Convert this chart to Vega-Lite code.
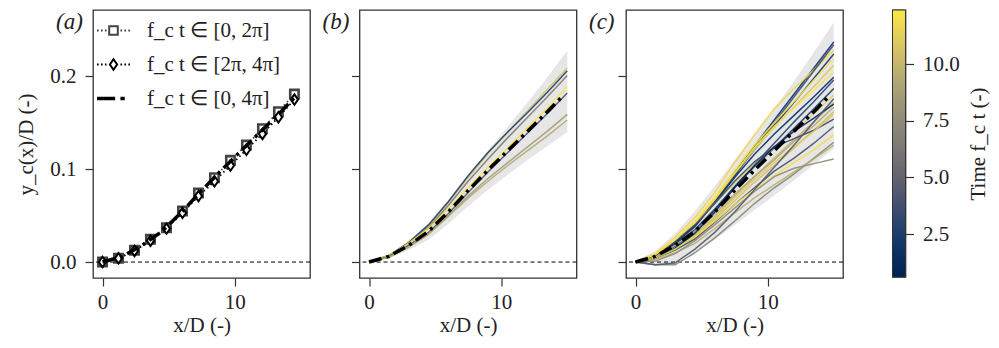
{
"$schema": "https://vega.github.io/schema/vega-lite/v6.json",
"background": "white",
"padding": {"left": 15, "top": 8, "right": 2, "bottom": 4},
"config": {
  "font": "Liberation Serif",
  "view": {"stroke": "#333", "strokeWidth": 1.3},
  "axis": {"domain": false, "grid": false, "tickColor": "#333", "tickSize": 8, "tickWidth": 1.2, "labelFontSize": 21, "labelColor": "#222", "titleFontSize": 21, "titleFontWeight": "normal", "titleColor": "#222", "labelFont": "Liberation Serif", "titleFont": "Liberation Serif"},
  "title": {"anchor": "start", "frame": "group", "baseline": "top", "dx": -37, "offset": -24, "fontSize": 23, "fontStyle": "italic", "fontWeight": "normal", "color": "#222", "font": "Liberation Serif"}
},
"datasets": {
  "a": [
    {"k":"sq","x":0,"y":0},{"k":"sq","x":1.21,"y":0.004},{"k":"sq","x":2.42,"y":0.0126},{"k":"sq","x":3.63,"y":0.0245},{"k":"sq","x":4.84,"y":0.037},{"k":"sq","x":6.05,"y":0.055},{"k":"sq","x":7.26,"y":0.0743},{"k":"sq","x":8.47,"y":0.0908},{"k":"sq","x":9.68,"y":0.1096},{"k":"sq","x":10.89,"y":0.126},{"k":"sq","x":12.1,"y":0.1436},{"k":"sq","x":13.31,"y":0.162},{"k":"sq","x":14.52,"y":0.181},
    {"k":"dm","x":0,"y":0},{"k":"dm","x":1.21,"y":0.004},{"k":"dm","x":2.42,"y":0.012},{"k":"dm","x":3.63,"y":0.023},{"k":"dm","x":4.84,"y":0.036},{"k":"dm","x":6.05,"y":0.053},{"k":"dm","x":7.26,"y":0.071},{"k":"dm","x":8.47,"y":0.087},{"k":"dm","x":9.68,"y":0.104},{"k":"dm","x":10.89,"y":0.121},{"k":"dm","x":12.1,"y":0.138},{"k":"dm","x":13.31,"y":0.156},{"k":"dm","x":14.52,"y":0.175},
    {"k":"mean","x":0,"y":0},{"k":"mean","x":1.5,"y":0.006},{"k":"mean","x":3,"y":0.018},{"k":"mean","x":4.5,"y":0.033},{"k":"mean","x":6,"y":0.054},{"k":"mean","x":7.5,"y":0.077},{"k":"mean","x":9,"y":0.099},{"k":"mean","x":10.5,"y":0.12},{"k":"mean","x":12,"y":0.141},{"k":"mean","x":13.5,"y":0.162},{"k":"mean","x":14.6,"y":0.178}
  ],
  "mean": [
    {"x":0,"y":0},{"x":1.5,"y":0.006},{"x":3,"y":0.018},{"x":4.5,"y":0.033},{"x":6,"y":0.054},{"x":7.5,"y":0.077},{"x":9,"y":0.099},{"x":10.5,"y":0.12},{"x":12,"y":0.141},{"x":13.5,"y":0.162},{"x":14.6,"y":0.178}
  ],
  "bandb": [
    {"x":0,"lo":0,"hi":0},{"x":1.5,"lo":0.004,"hi":0.008},{"x":3,"lo":0.013,"hi":0.023},{"x":4.5,"lo":0.024,"hi":0.042},{"x":6,"lo":0.041,"hi":0.067},{"x":7.5,"lo":0.06,"hi":0.094},{"x":9,"lo":0.078,"hi":0.12},{"x":10.5,"lo":0.094,"hi":0.146},{"x":12,"lo":0.11,"hi":0.172},{"x":13.5,"lo":0.125,"hi":0.199},{"x":15,"lo":0.14,"hi":0.228}
  ],
  "bandc": [
    {"x":0,"lo":-0.001,"hi":0.001},{"x":1.5,"lo":-0.004,"hi":0.012},{"x":3,"lo":0,"hi":0.031},{"x":4.5,"lo":0.01,"hi":0.055},{"x":6,"lo":0.024,"hi":0.082},{"x":7.5,"lo":0.04,"hi":0.11},{"x":9,"lo":0.056,"hi":0.138},{"x":10.5,"lo":0.072,"hi":0.166},{"x":12,"lo":0.088,"hi":0.195},{"x":13.5,"lo":0.105,"hi":0.226},{"x":15,"lo":0.122,"hi":0.258}
  ],
  "b": [
    {"id":"b1","t":10.6,"x":0,"y":0},{"id":"b1","t":10.6,"x":1.5,"y":0.007},{"id":"b1","t":10.6,"x":3,"y":0.021},{"id":"b1","t":10.6,"x":4.5,"y":0.039},{"id":"b1","t":10.6,"x":6,"y":0.064},{"id":"b1","t":10.6,"x":7.5,"y":0.091},{"id":"b1","t":10.6,"x":9,"y":0.117},{"id":"b1","t":10.6,"x":10.5,"y":0.14},{"id":"b1","t":10.6,"x":12,"y":0.163},{"id":"b1","t":10.6,"x":13.5,"y":0.186},{"id":"b1","t":10.6,"x":15,"y":0.209},
    {"id":"b2","t":2.6,"x":0,"y":0},{"id":"b2","t":2.6,"x":1.5,"y":0.007},{"id":"b2","t":2.6,"x":3,"y":0.021},{"id":"b2","t":2.6,"x":4.5,"y":0.04},{"id":"b2","t":2.6,"x":6,"y":0.065},{"id":"b2","t":2.6,"x":7.5,"y":0.093},{"id":"b2","t":2.6,"x":9,"y":0.118},{"id":"b2","t":2.6,"x":10.5,"y":0.14},{"id":"b2","t":2.6,"x":12,"y":0.161},{"id":"b2","t":2.6,"x":13.5,"y":0.183},{"id":"b2","t":2.6,"x":15,"y":0.206},
    {"id":"b3","t":6.5,"x":0,"y":0},{"id":"b3","t":6.5,"x":1.5,"y":0.006},{"id":"b3","t":6.5,"x":3,"y":0.02},{"id":"b3","t":6.5,"x":4.5,"y":0.037},{"id":"b3","t":6.5,"x":6,"y":0.061},{"id":"b3","t":6.5,"x":7.5,"y":0.087},{"id":"b3","t":6.5,"x":9,"y":0.111},{"id":"b3","t":6.5,"x":10.5,"y":0.134},{"id":"b3","t":6.5,"x":12,"y":0.156},{"id":"b3","t":6.5,"x":13.5,"y":0.178},{"id":"b3","t":6.5,"x":15,"y":0.201},
    {"id":"b4","t":12.2,"x":0,"y":0},{"id":"b4","t":12.2,"x":1.5,"y":0.007},{"id":"b4","t":12.2,"x":3,"y":0.02},{"id":"b4","t":12.2,"x":4.5,"y":0.036},{"id":"b4","t":12.2,"x":6,"y":0.057},{"id":"b4","t":12.2,"x":7.5,"y":0.08},{"id":"b4","t":12.2,"x":9,"y":0.102},{"id":"b4","t":12.2,"x":10.5,"y":0.123},{"id":"b4","t":12.2,"x":12,"y":0.145},{"id":"b4","t":12.2,"x":13.5,"y":0.166},{"id":"b4","t":12.2,"x":15,"y":0.189},
    {"id":"b5","t":4.2,"x":0,"y":0},{"id":"b5","t":4.2,"x":1.5,"y":0.006},{"id":"b5","t":4.2,"x":3,"y":0.018},{"id":"b5","t":4.2,"x":4.5,"y":0.032},{"id":"b5","t":4.2,"x":6,"y":0.052},{"id":"b5","t":4.2,"x":7.5,"y":0.075},{"id":"b5","t":4.2,"x":9,"y":0.097},{"id":"b5","t":4.2,"x":10.5,"y":0.118},{"id":"b5","t":4.2,"x":12,"y":0.139},{"id":"b5","t":4.2,"x":13.5,"y":0.16},{"id":"b5","t":4.2,"x":15,"y":0.182},
    {"id":"b6","t":8.6,"x":0,"y":0},{"id":"b6","t":8.6,"x":1.5,"y":0.005},{"id":"b6","t":8.6,"x":3,"y":0.016},{"id":"b6","t":8.6,"x":4.5,"y":0.03},{"id":"b6","t":8.6,"x":6,"y":0.05},{"id":"b6","t":8.6,"x":7.5,"y":0.071},{"id":"b6","t":8.6,"x":9,"y":0.09},{"id":"b6","t":8.6,"x":10.5,"y":0.107},{"id":"b6","t":8.6,"x":12,"y":0.124},{"id":"b6","t":8.6,"x":13.5,"y":0.141},{"id":"b6","t":8.6,"x":15,"y":0.159},
    {"id":"b7","t":9.2,"x":0,"y":0},{"id":"b7","t":9.2,"x":1.5,"y":0.005},{"id":"b7","t":9.2,"x":3,"y":0.016},{"id":"b7","t":9.2,"x":4.5,"y":0.03},{"id":"b7","t":9.2,"x":6,"y":0.049},{"id":"b7","t":9.2,"x":7.5,"y":0.069},{"id":"b7","t":9.2,"x":9,"y":0.087},{"id":"b7","t":9.2,"x":10.5,"y":0.104},{"id":"b7","t":9.2,"x":12,"y":0.12},{"id":"b7","t":9.2,"x":13.5,"y":0.136},{"id":"b7","t":9.2,"x":15,"y":0.153}
  ],
  "c": [
    {"id":"c1","t":2.0,"x":0,"y":0},{"id":"c1","t":2.0,"x":1.5,"y":0.007},{"id":"c1","t":2.0,"x":3,"y":0.022},{"id":"c1","t":2.0,"x":4.5,"y":0.041},{"id":"c1","t":2.0,"x":6,"y":0.067},{"id":"c1","t":2.0,"x":7.5,"y":0.096},{"id":"c1","t":2.0,"x":9,"y":0.125},{"id":"c1","t":2.0,"x":10.5,"y":0.153},{"id":"c1","t":2.0,"x":12,"y":0.181},{"id":"c1","t":2.0,"x":13.5,"y":0.209},{"id":"c1","t":2.0,"x":15,"y":0.237},
    {"id":"c2","t":11.6,"x":0,"y":0},{"id":"c2","t":11.6,"x":1.5,"y":0.009},{"id":"c2","t":11.6,"x":3,"y":0.027},{"id":"c2","t":11.6,"x":4.5,"y":0.048},{"id":"c2","t":11.6,"x":6,"y":0.075},{"id":"c2","t":11.6,"x":7.5,"y":0.107},{"id":"c2","t":11.6,"x":9,"y":0.137},{"id":"c2","t":11.6,"x":10.5,"y":0.165},{"id":"c2","t":11.6,"x":12,"y":0.187},{"id":"c2","t":11.6,"x":13.5,"y":0.207},{"id":"c2","t":11.6,"x":15,"y":0.228},
    {"id":"c3","t":3.6,"x":0,"y":0},{"id":"c3","t":3.6,"x":1.5,"y":0.006},{"id":"c3","t":3.6,"x":3,"y":0.02},{"id":"c3","t":3.6,"x":4.5,"y":0.038},{"id":"c3","t":3.6,"x":6,"y":0.064},{"id":"c3","t":3.6,"x":7.5,"y":0.093},{"id":"c3","t":3.6,"x":9,"y":0.122},{"id":"c3","t":3.6,"x":10.5,"y":0.15},{"id":"c3","t":3.6,"x":12,"y":0.178},{"id":"c3","t":3.6,"x":13.5,"y":0.206},{"id":"c3","t":3.6,"x":15,"y":0.234},
    {"id":"c4","t":2.3,"x":0,"y":0},{"id":"c4","t":2.3,"x":1.5,"y":0.007},{"id":"c4","t":2.3,"x":3,"y":0.021},{"id":"c4","t":2.3,"x":4.5,"y":0.04},{"id":"c4","t":2.3,"x":6,"y":0.066},{"id":"c4","t":2.3,"x":7.5,"y":0.094},{"id":"c4","t":2.3,"x":9,"y":0.121},{"id":"c4","t":2.3,"x":10.5,"y":0.147},{"id":"c4","t":2.3,"x":12,"y":0.172},{"id":"c4","t":2.3,"x":13.5,"y":0.198},{"id":"c4","t":2.3,"x":15,"y":0.224},
    {"id":"c5","t":12.1,"x":0,"y":0},{"id":"c5","t":12.1,"x":1.5,"y":0.008},{"id":"c5","t":12.1,"x":3,"y":0.024},{"id":"c5","t":12.1,"x":4.5,"y":0.044},{"id":"c5","t":12.1,"x":6,"y":0.07},{"id":"c5","t":12.1,"x":7.5,"y":0.099},{"id":"c5","t":12.1,"x":9,"y":0.126},{"id":"c5","t":12.1,"x":10.5,"y":0.15},{"id":"c5","t":12.1,"x":12,"y":0.173},{"id":"c5","t":12.1,"x":13.5,"y":0.196},{"id":"c5","t":12.1,"x":15,"y":0.219},
    {"id":"c6","t":10.8,"x":0,"y":0},{"id":"c6","t":10.8,"x":1.5,"y":0.008},{"id":"c6","t":10.8,"x":3,"y":0.023},{"id":"c6","t":10.8,"x":4.5,"y":0.042},{"id":"c6","t":10.8,"x":6,"y":0.067},{"id":"c6","t":10.8,"x":7.5,"y":0.095},{"id":"c6","t":10.8,"x":9,"y":0.121},{"id":"c6","t":10.8,"x":10.5,"y":0.145},{"id":"c6","t":10.8,"x":12,"y":0.167},{"id":"c6","t":10.8,"x":13.5,"y":0.189},{"id":"c6","t":10.8,"x":15,"y":0.212},
    {"id":"c7","t":1.4,"x":0,"y":0},{"id":"c7","t":1.4,"x":1.5,"y":0.007},{"id":"c7","t":1.4,"x":3,"y":0.021},{"id":"c7","t":1.4,"x":4.5,"y":0.039},{"id":"c7","t":1.4,"x":6,"y":0.064},{"id":"c7","t":1.4,"x":7.5,"y":0.091},{"id":"c7","t":1.4,"x":9,"y":0.116},{"id":"c7","t":1.4,"x":10.5,"y":0.138},{"id":"c7","t":1.4,"x":12,"y":0.158},{"id":"c7","t":1.4,"x":13.5,"y":0.178},{"id":"c7","t":1.4,"x":15,"y":0.199},
    {"id":"c8","t":3.0,"x":0,"y":0},{"id":"c8","t":3.0,"x":1.5,"y":0.005},{"id":"c8","t":3.0,"x":3,"y":0.017},{"id":"c8","t":3.0,"x":4.5,"y":0.033},{"id":"c8","t":3.0,"x":6,"y":0.056},{"id":"c8","t":3.0,"x":7.5,"y":0.081},{"id":"c8","t":3.0,"x":9,"y":0.105},{"id":"c8","t":3.0,"x":10.5,"y":0.128},{"id":"c8","t":3.0,"x":12,"y":0.151},{"id":"c8","t":3.0,"x":13.5,"y":0.173},{"id":"c8","t":3.0,"x":15,"y":0.196},
    {"id":"c9","t":2.6,"x":0,"y":0},{"id":"c9","t":2.6,"x":1.5,"y":0.006},{"id":"c9","t":2.6,"x":3,"y":0.019},{"id":"c9","t":2.6,"x":4.5,"y":0.035},{"id":"c9","t":2.6,"x":6,"y":0.057},{"id":"c9","t":2.6,"x":7.5,"y":0.081},{"id":"c9","t":2.6,"x":9,"y":0.103},{"id":"c9","t":2.6,"x":10.5,"y":0.123},{"id":"c9","t":2.6,"x":12,"y":0.144},{"id":"c9","t":2.6,"x":13.5,"y":0.165},{"id":"c9","t":2.6,"x":15,"y":0.187},
    {"id":"c10","t":11.3,"x":0,"y":0},{"id":"c10","t":11.3,"x":1.5,"y":0.008},{"id":"c10","t":11.3,"x":3,"y":0.023},{"id":"c10","t":11.3,"x":4.5,"y":0.041},{"id":"c10","t":11.3,"x":6,"y":0.063},{"id":"c10","t":11.3,"x":7.5,"y":0.085},{"id":"c10","t":11.3,"x":9,"y":0.105},{"id":"c10","t":11.3,"x":10.5,"y":0.123},{"id":"c10","t":11.3,"x":12,"y":0.141},{"id":"c10","t":11.3,"x":13.5,"y":0.16},{"id":"c10","t":11.3,"x":15,"y":0.18},
    {"id":"c11","t":9.9,"x":0,"y":0},{"id":"c11","t":9.9,"x":1.5,"y":0.005},{"id":"c11","t":9.9,"x":3,"y":0.015},{"id":"c11","t":9.9,"x":4.5,"y":0.029},{"id":"c11","t":9.9,"x":6,"y":0.049},{"id":"c11","t":9.9,"x":7.5,"y":0.071},{"id":"c11","t":9.9,"x":9,"y":0.092},{"id":"c11","t":9.9,"x":10.5,"y":0.112},{"id":"c11","t":9.9,"x":12,"y":0.132},{"id":"c11","t":9.9,"x":13.5,"y":0.151},{"id":"c11","t":9.9,"x":15,"y":0.172},
    {"id":"c12","t":9.2,"x":0,"y":0},{"id":"c12","t":9.2,"x":1.5,"y":0.006},{"id":"c12","t":9.2,"x":3,"y":0.018},{"id":"c12","t":9.2,"x":4.5,"y":0.033},{"id":"c12","t":9.2,"x":6,"y":0.052},{"id":"c12","t":9.2,"x":7.5,"y":0.073},{"id":"c12","t":9.2,"x":9,"y":0.092},{"id":"c12","t":9.2,"x":10.5,"y":0.11},{"id":"c12","t":9.2,"x":12,"y":0.13},{"id":"c12","t":9.2,"x":13.5,"y":0.147},{"id":"c12","t":9.2,"x":15,"y":0.167},
    {"id":"c13","t":10.4,"x":0,"y":0},{"id":"c13","t":10.4,"x":1.5,"y":0.004},{"id":"c13","t":10.4,"x":3,"y":0.014},{"id":"c13","t":10.4,"x":4.5,"y":0.027},{"id":"c13","t":10.4,"x":6,"y":0.046},{"id":"c13","t":10.4,"x":7.5,"y":0.066},{"id":"c13","t":10.4,"x":9,"y":0.086},{"id":"c13","t":10.4,"x":10.5,"y":0.104},{"id":"c13","t":10.4,"x":12,"y":0.123},{"id":"c13","t":10.4,"x":13.5,"y":0.142},{"id":"c13","t":10.4,"x":15,"y":0.162},
    {"id":"c14","t":3.4,"x":0,"y":0},{"id":"c14","t":3.4,"x":1.5,"y":0.007},{"id":"c14","t":3.4,"x":3,"y":0.022},{"id":"c14","t":3.4,"x":4.5,"y":0.04},{"id":"c14","t":3.4,"x":6,"y":0.063},{"id":"c14","t":3.4,"x":7.5,"y":0.087},{"id":"c14","t":3.4,"x":9,"y":0.108},{"id":"c14","t":3.4,"x":10.5,"y":0.124},{"id":"c14","t":3.4,"x":12,"y":0.133},{"id":"c14","t":3.4,"x":13.5,"y":0.142},{"id":"c14","t":3.4,"x":15,"y":0.154},
    {"id":"c15","t":3.9,"x":0,"y":0},{"id":"c15","t":3.9,"x":1.5,"y":0.004},{"id":"c15","t":3.9,"x":3,"y":0.013},{"id":"c15","t":3.9,"x":4.5,"y":0.025},{"id":"c15","t":3.9,"x":6,"y":0.043},{"id":"c15","t":3.9,"x":7.5,"y":0.062},{"id":"c15","t":3.9,"x":9,"y":0.08},{"id":"c15","t":3.9,"x":10.5,"y":0.098},{"id":"c15","t":3.9,"x":12,"y":0.112},{"id":"c15","t":3.9,"x":13.5,"y":0.128},{"id":"c15","t":3.9,"x":15,"y":0.146},
    {"id":"c16","t":11.9,"x":0,"y":0},{"id":"c16","t":11.9,"x":1.5,"y":0.005},{"id":"c16","t":11.9,"x":3,"y":0.015},{"id":"c16","t":11.9,"x":4.5,"y":0.027},{"id":"c16","t":11.9,"x":6,"y":0.044},{"id":"c16","t":11.9,"x":7.5,"y":0.062},{"id":"c16","t":11.9,"x":9,"y":0.078},{"id":"c16","t":11.9,"x":10.5,"y":0.093},{"id":"c16","t":11.9,"x":12,"y":0.107},{"id":"c16","t":11.9,"x":13.5,"y":0.121},{"id":"c16","t":11.9,"x":15,"y":0.137},
    {"id":"c17","t":7.1,"x":0,"y":0},{"id":"c17","t":7.1,"x":1.5,"y":-0.003},{"id":"c17","t":7.1,"x":3,"y":-0.003},{"id":"c17","t":7.1,"x":4.5,"y":0.01},{"id":"c17","t":7.1,"x":6,"y":0.026},{"id":"c17","t":7.1,"x":7.5,"y":0.044},{"id":"c17","t":7.1,"x":9,"y":0.063},{"id":"c17","t":7.1,"x":10.5,"y":0.08},{"id":"c17","t":7.1,"x":12,"y":0.095},{"id":"c17","t":7.1,"x":13.5,"y":0.112},{"id":"c17","t":7.1,"x":15,"y":0.129},
    {"id":"c18","t":9.6,"x":0,"y":0},{"id":"c18","t":9.6,"x":1.5,"y":0.003},{"id":"c18","t":9.6,"x":3,"y":0.01},{"id":"c18","t":9.6,"x":4.5,"y":0.02},{"id":"c18","t":9.6,"x":6,"y":0.036},{"id":"c18","t":9.6,"x":7.5,"y":0.053},{"id":"c18","t":9.6,"x":9,"y":0.069},{"id":"c18","t":9.6,"x":10.5,"y":0.083},{"id":"c18","t":9.6,"x":12,"y":0.097},{"id":"c18","t":9.6,"x":13.5,"y":0.111},{"id":"c18","t":9.6,"x":15,"y":0.126},
    {"id":"c19","t":7.4,"x":0,"y":0},{"id":"c19","t":7.4,"x":1.5,"y":0.001},{"id":"c19","t":7.4,"x":3,"y":0.009},{"id":"c19","t":7.4,"x":4.5,"y":0.023},{"id":"c19","t":7.4,"x":6,"y":0.04},{"id":"c19","t":7.4,"x":7.5,"y":0.058},{"id":"c19","t":7.4,"x":9,"y":0.076},{"id":"c19","t":7.4,"x":10.5,"y":0.092},{"id":"c19","t":7.4,"x":12,"y":0.101},{"id":"c19","t":7.4,"x":13.5,"y":0.106},{"id":"c19","t":7.4,"x":15,"y":0.111},
    {"id":"c20","t":12.3,"x":0,"y":0},{"id":"c20","t":12.3,"x":1.5,"y":0.008},{"id":"c20","t":12.3,"x":3,"y":0.024},{"id":"c20","t":12.3,"x":4.5,"y":0.043},{"id":"c20","t":12.3,"x":6,"y":0.068},{"id":"c20","t":12.3,"x":7.5,"y":0.096},{"id":"c20","t":12.3,"x":9,"y":0.123},{"id":"c20","t":12.3,"x":10.5,"y":0.146},{"id":"c20","t":12.3,"x":12,"y":0.166},{"id":"c20","t":12.3,"x":13.5,"y":0.185},{"id":"c20","t":12.3,"x":15,"y":0.205},
    {"id":"c21","t":0.9,"x":0,"y":0},{"id":"c21","t":0.9,"x":1.5,"y":0.004},{"id":"c21","t":0.9,"x":3,"y":0.015},{"id":"c21","t":0.9,"x":4.5,"y":0.031},{"id":"c21","t":0.9,"x":6,"y":0.054},{"id":"c21","t":0.9,"x":7.5,"y":0.08},{"id":"c21","t":0.9,"x":9,"y":0.104},{"id":"c21","t":0.9,"x":10.5,"y":0.124},{"id":"c21","t":0.9,"x":12,"y":0.141},{"id":"c21","t":0.9,"x":13.5,"y":0.155},{"id":"c21","t":0.9,"x":15,"y":0.17},
    {"id":"c22","t":11.0,"x":0,"y":0},{"id":"c22","t":11.0,"x":1.5,"y":0.004},{"id":"c22","t":11.0,"x":3,"y":0.014},{"id":"c22","t":11.0,"x":4.5,"y":0.028},{"id":"c22","t":11.0,"x":6,"y":0.048},{"id":"c22","t":11.0,"x":7.5,"y":0.069},{"id":"c22","t":11.0,"x":9,"y":0.089},{"id":"c22","t":11.0,"x":10.5,"y":0.107},{"id":"c22","t":11.0,"x":12,"y":0.124},{"id":"c22","t":11.0,"x":13.5,"y":0.141},{"id":"c22","t":11.0,"x":15,"y":0.159},
    {"id":"c23","t":4.4,"x":0,"y":0},{"id":"c23","t":4.4,"x":1.5,"y":-0.003},{"id":"c23","t":4.4,"x":3,"y":-0.001},{"id":"c23","t":4.4,"x":4.5,"y":0.014},{"id":"c23","t":4.4,"x":6,"y":0.032},{"id":"c23","t":4.4,"x":7.5,"y":0.054},{"id":"c23","t":4.4,"x":9,"y":0.078},{"id":"c23","t":4.4,"x":10.5,"y":0.102},{"id":"c23","t":4.4,"x":12,"y":0.126},{"id":"c23","t":4.4,"x":13.5,"y":0.151},{"id":"c23","t":4.4,"x":15,"y":0.176}
  ]
},
"bounds": "flush",
"spacing": 49.5,
"resolve": {"scale": {"color": "independent"}, "legend": {"color": "independent"}},
"hconcat": [
  {
    "width": 217, "height": 268,
    "title": {"text": "(a)"},
    "layer": [
      {
        "data": {"values": [{}]},
        "mark": {"type": "rule", "color": "black", "strokeWidth": 1, "strokeDash": [4, 3]},
        "encoding": {
          "y": {"datum": 0, "type": "quantitative", "scale": {"domain": [-0.0172, 0.2715], "nice": false, "zero": false},
                "axis": {"values": [0, 0.1, 0.2], "format": ".1f", "title": "y_c(x)/D (-)", "labelPadding": 9, "titlePadding": 13}}
        }
      },
      {
        "data": {"name": "a"},
        "transform": [{"filter": "datum.k === 'sq'"}],
        "mark": {"type": "line", "strokeWidth": 1.8, "strokeDash": [1.5, 3]},
        "encoding": {
          "x": {"field": "x", "type": "quantitative", "scale": {"domain": [-0.72, 15.7], "nice": false, "zero": false},
                "axis": {"values": [0, 10], "format": "d", "title": "x/D (-)", "labelPadding": 5, "titlePadding": 2}},
          "y": {"field": "y", "type": "quantitative"},
          "color": {"field": "k", "type": "nominal", "scale": {"domain": ["sq", "dm", "mean"], "range": ["#444444", "#000000", "#000000"]},
            "legend": {
              "title": null, "orient": "top-left", "offset": 8, "padding": 2,
              "labelFontSize": 21, "labelFont": "Liberation Serif", "labelColor": "#222", "labelOffset": 23,
              "rowPadding": 12, "symbolSize": 1089,
              "labelExpr": "datum.value === 'sq' ? 'f_c t ∈ [0, 2π]' : datum.value === 'dm' ? 'f_c t ∈ [2π, 4π]' : 'f_c t ∈ [0, 4π]'",
              "encode": {"symbols": {"update": {
                "shape": {"signal": "datum.value === 'sq' ? 'M-1,0h0.1M-0.76,0h0.1M-0.52,0h0.1M0.42,0h0.1M0.66,0h0.1M0.9,0h0.1M-0.26,-0.26H0.26V0.26H-0.26Z' : datum.value === 'dm' ? 'M-1,0h0.1M-0.76,0h0.1M-0.52,0h0.1M0.42,0h0.1M0.66,0h0.1M0.9,0h0.1M0,-0.32L0.22,0L0,0.32L-0.22,0Z' : 'M-1,0H0.1M0.42,0H0.68'"},
                "size": {"value": 1089},
                "stroke": {"signal": "datum.value === 'sq' ? '#444444' : '#000000'"},
                "strokeWidth": {"signal": "datum.value === 'mean' ? 3.5 : 2"},
                "strokeDash": {"value": []},
                "fill": {"value": "white"},
                "opacity": {"value": 1}
              }}}
            }}
        }
      },
      {
        "data": {"name": "a"},
        "transform": [{"filter": "datum.k === 'dm'"}],
        "mark": {"type": "line", "strokeWidth": 1.8, "strokeDash": [1.5, 3]},
        "encoding": {
          "x": {"field": "x", "type": "quantitative"},
          "y": {"field": "y", "type": "quantitative"},
          "color": {"field": "k", "type": "nominal"}
        }
      },
      {
        "data": {"name": "a"},
        "transform": [{"filter": "datum.k === 'sq'"}],
        "mark": {"type": "point", "shape": "square", "size": 70, "filled": false, "fill": "white", "strokeWidth": 2.6, "opacity": 1},
        "encoding": {
          "x": {"field": "x", "type": "quantitative"},
          "y": {"field": "y", "type": "quantitative"},
          "color": {"field": "k", "type": "nominal"}
        }
      },
      {
        "data": {"name": "a"},
        "transform": [{"filter": "datum.k === 'dm'"}],
        "mark": {"type": "point", "shape": "M0,-1L0.7,0L0,1L-0.7,0Z", "size": 110, "filled": false, "fill": "white", "strokeWidth": 2, "opacity": 1},
        "encoding": {
          "x": {"field": "x", "type": "quantitative"},
          "y": {"field": "y", "type": "quantitative"},
          "color": {"field": "k", "type": "nominal"}
        }
      },
      {
        "data": {"name": "a"},
        "transform": [{"filter": "datum.k === 'mean'"}],
        "mark": {"type": "line", "strokeWidth": 3.5, "strokeDash": [13, 5, 3, 5]},
        "encoding": {
          "x": {"field": "x", "type": "quantitative"},
          "y": {"field": "y", "type": "quantitative"},
          "color": {"field": "k", "type": "nominal"}
        }
      }
    ]
  },
  {
    "width": 217, "height": 268,
    "title": {"text": "(b)"},
    "layer": [
      {
        "data": {"name": "bandb"},
        "mark": {"type": "area", "color": "#e6e6e6"},
        "encoding": {
          "x": {"field": "x", "type": "quantitative", "scale": {"domain": [-0.72, 15.7], "nice": false, "zero": false},
                "axis": {"values": [0, 10], "format": "d", "title": "x/D (-)", "labelPadding": 5, "titlePadding": 2}},
          "y": {"field": "lo", "type": "quantitative", "scale": {"domain": [-0.0172, 0.2715], "nice": false, "zero": false},
                "axis": {"values": [0, 0.1, 0.2], "labels": false, "title": null}},
          "y2": {"field": "hi"}
        }
      },
      {
        "data": {"values": [{}]},
        "mark": {"type": "rule", "color": "black", "strokeWidth": 1, "strokeDash": [4, 3]},
        "encoding": {"y": {"datum": 0, "type": "quantitative"}}
      },
      {
        "data": {"name": "b"},
        "mark": {"type": "line", "strokeWidth": 1.5, "opacity": 0.9},
        "encoding": {
          "x": {"field": "x", "type": "quantitative"},
          "y": {"field": "y", "type": "quantitative"},
          "detail": {"field": "id"},
          "color": {"field": "t", "type": "quantitative", "scale": {"scheme": "cividis", "domain": [0.6, 12.4]}, "legend": null}
        }
      },
      {
        "data": {"name": "mean"},
        "mark": {"type": "line", "color": "black", "strokeWidth": 3.5, "strokeDash": [13, 5, 3, 5]},
        "encoding": {
          "x": {"field": "x", "type": "quantitative"},
          "y": {"field": "y", "type": "quantitative"}
        }
      }
    ]
  },
  {
    "width": 217, "height": 268,
    "title": {"text": "(c)"},
    "layer": [
      {
        "data": {"name": "bandc"},
        "mark": {"type": "area", "color": "#e6e6e6"},
        "encoding": {
          "x": {"field": "x", "type": "quantitative", "scale": {"domain": [-0.72, 15.7], "nice": false, "zero": false},
                "axis": {"values": [0, 10], "format": "d", "title": "x/D (-)", "labelPadding": 5, "titlePadding": 2}},
          "y": {"field": "lo", "type": "quantitative", "scale": {"domain": [-0.0172, 0.2715], "nice": false, "zero": false},
                "axis": {"values": [0, 0.1, 0.2], "labels": false, "title": null}},
          "y2": {"field": "hi"}
        }
      },
      {
        "data": {"values": [{}]},
        "mark": {"type": "rule", "color": "black", "strokeWidth": 1, "strokeDash": [4, 3]},
        "encoding": {"y": {"datum": 0, "type": "quantitative"}}
      },
      {
        "data": {"name": "c"},
        "mark": {"type": "line", "strokeWidth": 1.5, "opacity": 0.9},
        "encoding": {
          "x": {"field": "x", "type": "quantitative"},
          "y": {"field": "y", "type": "quantitative"},
          "detail": {"field": "id"},
          "color": {"field": "t", "type": "quantitative", "scale": {"scheme": "cividis", "domain": [0.6, 12.4]}, "legend": null}
        }
      },
      {
        "data": {"name": "mean"},
        "mark": {"type": "line", "color": "black", "strokeWidth": 3.5, "strokeDash": [13, 5, 3, 5]},
        "encoding": {
          "x": {"field": "x", "type": "quantitative"},
          "y": {"field": "y", "type": "quantitative"}
        }
      }
    ]
  },
  {
    "width": 13, "height": 267,
    "data": {"values": [{"t0": 0.6, "t1": 12.4}]},
    "mark": {"type": "rect", "stroke": "#333", "strokeWidth": 1,
      "color": {"gradient": "linear", "x1": 0, "y1": 1, "x2": 0, "y2": 0, "stops": [
        {"offset": 0, "color": "#002051"}, {"offset": 0.125, "color": "#11366c"}, {"offset": 0.25, "color": "#3c4d6e"},
        {"offset": 0.375, "color": "#62646f"}, {"offset": 0.5, "color": "#7f7c75"}, {"offset": 0.625, "color": "#969178"},
        {"offset": 0.75, "color": "#b6ab73"}, {"offset": 0.875, "color": "#ddc85f"}, {"offset": 1, "color": "#fce647"}]}},
    "encoding": {
      "y": {"field": "t0", "type": "quantitative", "scale": {"domain": [0.6, 12.4], "nice": false, "zero": false},
            "axis": {"orient": "right", "values": [2.5, 5, 7.5, 10], "format": ".1f", "title": "Time f_c t (-)", "titleAngle": 270,
                     "tickSize": 8, "labelPadding": 9, "titlePadding": 29}},
      "y2": {"field": "t1"}
    }
  }
]
}
